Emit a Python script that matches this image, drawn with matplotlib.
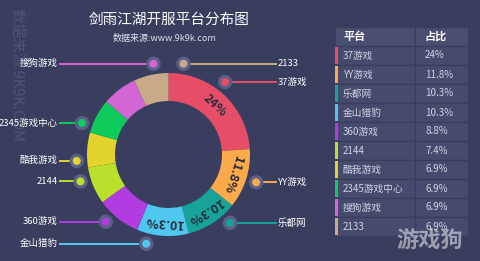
import matplotlib.pyplot as plt
from matplotlib.patches import Circle, Rectangle
import numpy as np

plt.rcParams['font.family'] = ['Noto Sans CJK SC', 'DejaVu Sans']

# data
platforms = ['37游戏', 'YY游戏', '乐都网', '金山猎豹', '360游戏', '2144',
             '酷我游戏', '2345游戏中心', '搜狗游戏', '2133']
shares = [24, 11.8, 10.3, 10.3, 8.8, 7.4, 6.9, 6.9, 6.9, 6.9]
share_text = ['24%', '11.8%', '10.3%', '10.3%', '8.8%', '7.4%',
              '6.9%', '6.9%', '6.9%', '6.9%']
colors = ['#e54e66', '#fbab4c', '#17a39a', '#4fc8f0', '#b23ce0',
          '#b9e02a', '#e2d42c', '#0dcc5c', '#d266d4', '#c8aa88']

# where the callout dots sit around the ring (degrees), hand placed
callout_angle = [52, -17.6, -48, -104, -133, -163, -176, 160, 99.4, 80.6]

W, H = 480, 261
bg = '#393e5f'

fig = plt.figure(figsize=(4.8, 2.61), dpi=100)
fig.patch.set_facecolor(bg)
ax = fig.add_axes([0, 0, 1, 1])
ax.set_facecolor(bg)

# faint watermark behind everything
ax.text(17, H - 75, '数据来源 9K9K.COM', rotation=-90, ha='center',
        va='center', fontsize=10.5, color='#505577', zorder=0)

cx, cy = 168.5, H - 154.5
r_out, r_in = 81.5, 53.5

wedges, _ = ax.pie(shares, colors=colors, startangle=90, counterclock=False,
                   radius=r_out, center=(cx, cy),
                   wedgeprops=dict(width=r_out - r_in, linewidth=0))

# percent labels on the big slices
r_mid = (r_out + r_in) / 2
for w, s, txt in zip(wedges, shares, share_text):
    if s < 10:
        continue
    a = (w.theta1 + w.theta2) / 2
    x = cx + r_mid * np.cos(np.radians(a))
    y = cy + r_mid * np.sin(np.radians(a))
    ax.text(x, y, txt, rotation=a - 90, rotation_mode='anchor',
            ha='center', va='center', fontsize=9, fontweight='bold',
            color='#2b2b3a')

# callouts
r_call = 92
for name, c, a in zip(platforms, colors, callout_angle):
    x = cx + r_call * np.cos(np.radians(a))
    y = cy + r_call * np.sin(np.radians(a))
    if np.cos(np.radians(a)) < 0:
        x_end, x_txt, ha = 60, 58, 'right'
    else:
        x_end, x_txt, ha = 276, 278, 'left'
    ax.plot([x, x_end], [y, y], color=c, lw=1.4, zorder=3)
    ax.add_patch(Circle((x, y), 6.5, color='#5b6088', zorder=4))
    ax.add_patch(Circle((x, y), 3.3, color=c, zorder=5))
    ax.text(x_txt, y, name, ha=ha, va='center', fontsize=6.8, color='white',
            zorder=5)

# title
ax.text(169, H - 20, '剑雨江湖开服平台分布图', ha='center', va='center',
        fontsize=10.5, color='white')
ax.text(165, H - 39, '数据来源:www.9k9k.com', ha='center', va='center',
        fontsize=6.5, color='#dddde8')

# table
tx0, tx1, tx2 = 335, 415, 468
top, row_h = 27, 19
cell = '#464b6e'
ax.add_patch(Rectangle((tx0, H - top - row_h), tx1 - tx0, row_h,
                       facecolor='#4a4f72', edgecolor=bg, lw=1))
ax.add_patch(Rectangle((tx1, H - top - row_h), tx2 - tx1, row_h,
                       facecolor='#4a4f72', edgecolor=bg, lw=1))
ax.text(343, H - top - row_h / 2, '平台', ha='left', va='center',
        fontsize=8, fontweight='bold', color='white')
ax.text(425, H - top - row_h / 2, '占比', ha='left', va='center',
        fontsize=8, fontweight='bold', color='white')
for i, (name, txt, c) in enumerate(zip(platforms, share_text, colors)):
    y0 = H - top - row_h * (i + 2)
    ax.add_patch(Rectangle((tx0, y0), tx1 - tx0, row_h, facecolor=cell,
                           edgecolor=bg, lw=1))
    ax.add_patch(Rectangle((tx1, y0), tx2 - tx1, row_h, facecolor=cell,
                           edgecolor=bg, lw=1))
    ax.add_patch(Rectangle((tx0, y0 + 1), 3, row_h - 2, facecolor=c, lw=0))
    ax.text(343, y0 + row_h / 2, name, ha='left', va='center',
            fontsize=7, color='#d0d3e4')
    ax.text(425, y0 + row_h / 2, txt, ha='left', va='center',
            fontsize=7, color='#d0d3e4')

# site logo watermark
ax.text(430, H - 241, '游戏狗', ha='center', va='center', fontsize=16,
        fontweight='bold', color='white', alpha=0.5, zorder=6)

ax.set_xlim(0, W)
ax.set_ylim(0, H)
ax.set_aspect('auto')
ax.axis('off')

plt.savefig('out.png', dpi=100, facecolor=bg)
